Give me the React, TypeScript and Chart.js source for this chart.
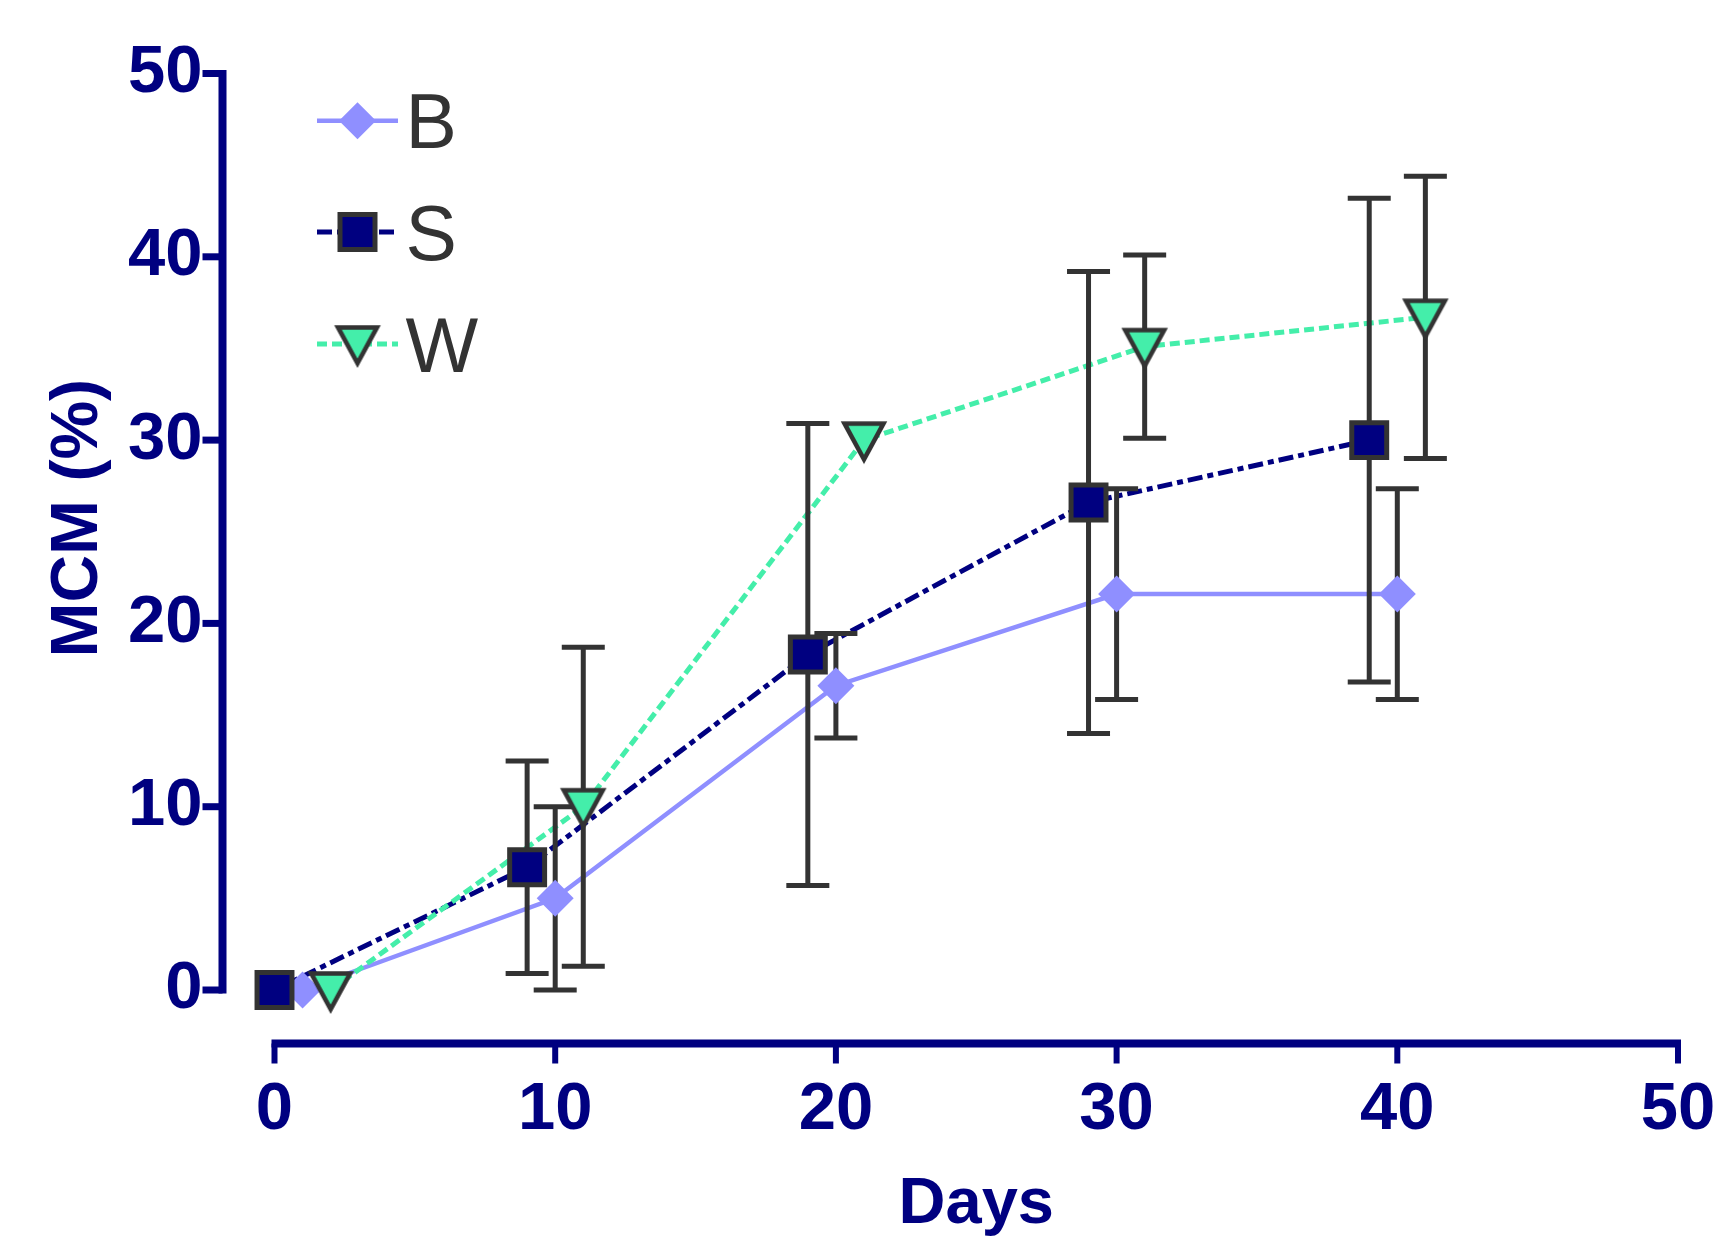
import React, { useEffect, useRef } from 'react';
import { Chart, registerables } from 'chart.js';

Chart.register(...registerables);

// ---------- data ----------
const SERIES_NAMES = ['B', 'S', 'W'];
const B_DAYS = [1, 10, 20, 30, 40];
const B_MEAN = [0, 5, 16.6, 21.6, 21.6];
const B_ERR = [0, 5, 2.85, 5.75, 5.75];
const S_DAYS = [0, 9, 19, 29, 39];
const S_MEAN = [0, 6.7, 18.3, 26.6, 30.0];
const S_ERR = [0, 5.8, 12.6, 12.6, 13.2];
const W_DAYS = [2, 11, 21, 31, 41];
const W_MEAN = [0, 10, 30, 35.1, 36.7];
const W_ERR = [0, 8.7, 0, 5, 7.7];
const X_TICKS = [0, 10, 20, 30, 40, 50];
const Y_TICKS = [0, 10, 20, 30, 40, 50];
const X_TITLE = 'Days';
const Y_TITLE = 'MCM (%)';

// ---------- styles ----------
const NAVY = '#000080';
const B_COLOR = '#8F8FFF';
const S_COLOR = '#000080';
const W_COLOR = '#44EEAA';
const EDGE = '#333333';
const FONT = "'Liberation Sans', Arial, Helvetica, sans-serif";
const S_DASH = [15, 5, 6, 5];
const W_DASH = [10, 5];
const B_WIDTH = 4.5;
const DASH_WIDTH = 5;

function makeTriangle(): HTMLCanvasElement {
  const c = document.createElement('canvas');
  c.width = 60;
  c.height = 60;
  const g = c.getContext('2d') as CanvasRenderingContext2D;
  drawTriangle(g, 30, 30);
  return c;
}

function drawTriangle(g: CanvasRenderingContext2D, cx: number, cy: number) {
  g.save();
  g.beginPath();
  g.moveTo(cx - 19.5, cy - 16.6);
  g.lineTo(cx + 19.5, cy - 16.6);
  g.lineTo(cx, cy + 19.4);
  g.closePath();
  g.fillStyle = W_COLOR;
  g.fill();
  g.lineWidth = 4.5;
  g.strokeStyle = EDGE;
  g.lineJoin = 'miter';
  g.setLineDash([]);
  g.stroke();
  g.restore();
}

const SERIES = [
  { name: SERIES_NAMES[0], days: B_DAYS, mean: B_MEAN, err: B_ERR },
  { name: SERIES_NAMES[1], days: S_DAYS, mean: S_MEAN, err: S_ERR },
  { name: SERIES_NAMES[2], days: W_DAYS, mean: W_MEAN, err: W_ERR },
];

const toPoints = (days: number[], mean: number[]) => days.map((d, i) => ({ x: d, y: mean[i] }));

const errorBarPlugin = {
  id: 'errorBars',
  beforeDatasetDraw(chart: any, args: any) {
    const ds = chart.data.datasets[args.index];
    if (ds.label !== 'B markers') return;
    const ctx = chart.ctx;
    const xs = chart.scales.x;
    const ys = chart.scales.y;
    ctx.save();
    ctx.strokeStyle = EDGE;
    ctx.lineWidth = 5;
    ctx.lineCap = 'butt';
    ctx.setLineDash([]);
    SERIES.forEach((s) => {
      s.days.forEach((d, i) => {
        const e = s.err[i];
        if (!e) return;
        const px = xs.getPixelForValue(d);
        const top = ys.getPixelForValue(s.mean[i] + e);
        const bot = ys.getPixelForValue(s.mean[i] - e);
        ctx.beginPath();
        ctx.moveTo(px, top);
        ctx.lineTo(px, bot);
        ctx.moveTo(px - 21.5, top);
        ctx.lineTo(px + 21.5, top);
        ctx.moveTo(px - 21.5, bot);
        ctx.lineTo(px + 21.5, bot);
        ctx.stroke();
      });
    });
    ctx.restore();
  },
};

const axesPlugin = {
  id: 'offsetAxes',
  beforeDatasetsDraw(chart: any) {
    const ctx = chart.ctx;
    const xs = chart.scales.x;
    const ys = chart.scales.y;
    const area = chart.chartArea;
    const axX = area.left - 52;
    const axY = area.bottom + 53.5;
    ctx.save();
    ctx.strokeStyle = NAVY;
    ctx.setLineDash([]);
    ctx.lineCap = 'butt';
    // y axis
    ctx.lineWidth = 8;
    ctx.beginPath();
    ctx.moveTo(axX, ys.getPixelForValue(Y_TICKS[Y_TICKS.length - 1]) - 3.5);
    ctx.lineTo(axX, ys.getPixelForValue(Y_TICKS[0]) + 3.5);
    ctx.stroke();
    ctx.lineWidth = 7;
    ys.ticks.forEach((t: any) => {
      const py = ys.getPixelForValue(t.value);
      ctx.beginPath();
      ctx.moveTo(axX - 20, py);
      ctx.lineTo(axX, py);
      ctx.stroke();
    });
    // x axis
    ctx.lineWidth = 8;
    ctx.beginPath();
    ctx.moveTo(xs.getPixelForValue(X_TICKS[0]) - 3, axY);
    ctx.lineTo(xs.getPixelForValue(X_TICKS[X_TICKS.length - 1]) + 3, axY);
    ctx.stroke();
    ctx.lineWidth = 6;
    xs.ticks.forEach((t: any) => {
      const px = xs.getPixelForValue(t.value);
      ctx.beginPath();
      ctx.moveTo(px, axY);
      ctx.lineTo(px, axY + 20);
      ctx.stroke();
    });
    ctx.restore();
  },
};

const legendPlugin = {
  id: 'customLegend',
  afterDraw(chart: any) {
    const ctx = chart.ctx;
    const area = chart.chartArea;
    const x1 = area.left + 42.5;
    const x2 = area.left + 123.5;
    const mx = (x1 + x2) / 2;
    const tx = area.left + 131;
    const rows = [area.top + 47.2, area.top + 158.5, area.top + 270.5];
    const tri = chart.$triangle as HTMLCanvasElement;
    ctx.save();
    rows.forEach((ry, k) => {
      ctx.lineCap = 'butt';
      if (k === 0) {
        ctx.strokeStyle = B_COLOR; ctx.lineWidth = B_WIDTH; ctx.setLineDash([]);
      } else if (k === 1) {
        ctx.strokeStyle = S_COLOR; ctx.lineWidth = DASH_WIDTH; ctx.setLineDash(S_DASH);
      } else {
        ctx.strokeStyle = W_COLOR; ctx.lineWidth = DASH_WIDTH; ctx.setLineDash(W_DASH);
      }
      ctx.beginPath();
      ctx.moveTo(x1, ry);
      ctx.lineTo(x2, ry);
      ctx.stroke();
      ctx.setLineDash([]);
      if (k === 0) {
        const r = 18.5;
        ctx.beginPath();
        ctx.moveTo(mx - r, ry);
        ctx.lineTo(mx, ry - r);
        ctx.lineTo(mx + r, ry);
        ctx.lineTo(mx, ry + r);
        ctx.closePath();
        ctx.fillStyle = B_COLOR;
        ctx.fill();
      } else if (k === 1) {
        const h = 17.5;
        ctx.beginPath();
        ctx.rect(mx - h, ry - h, 2 * h, 2 * h);
        ctx.fillStyle = S_COLOR;
        ctx.fill();
        ctx.lineWidth = 5;
        ctx.strokeStyle = EDGE;
        ctx.stroke();
      } else if (tri) {
        ctx.drawImage(tri, mx - tri.width / 2, ry - tri.height / 2);
      }
      ctx.fillStyle = EDGE;
      ctx.font = `normal 77px ${FONT}`;
      ctx.textAlign = 'left';
      ctx.textBaseline = 'alphabetic';
      ctx.fillText(SERIES_NAMES[k], tx, ry + 27.6);
    });
    // y-axis title
    ctx.save();
    ctx.translate(73, (area.top + area.bottom) / 2 - 13.5);
    ctx.rotate(-Math.PI / 2);
    ctx.fillStyle = NAVY;
    ctx.font = `bold 66px ${FONT}`;
    ctx.textAlign = 'center';
    ctx.textBaseline = 'alphabetic';
    ctx.fillText(Y_TITLE, 0, 23.6);
    ctx.restore();
    ctx.restore();
  },
};

const zeroPadding = (s: any) => {
  s.paddingLeft = 0;
  s.paddingRight = 0;
  s.paddingTop = 0;
  s.paddingBottom = 0;
};

export default function App() {
  const canvasRef = useRef<HTMLCanvasElement | null>(null);

  useEffect(() => {
    const canvas = canvasRef.current;
    if (!canvas) return;
    const tri = makeTriangle();

    const lineBase = {
      pointRadius: 0,
      pointHoverRadius: 0,
      fill: false,
      tension: 0,
      clip: false as any,
      borderCapStyle: 'butt',
    };
    const markerBase = {
      showLine: false,
      clip: false as any,
      pointHoverRadius: 0,
    };

    const chart = new Chart(canvas, {
      type: 'line',
      data: {
        datasets: [
          { ...lineBase, label: 'B line', data: toPoints(B_DAYS, B_MEAN), borderColor: B_COLOR, borderWidth: B_WIDTH, order: 12 },
          { ...lineBase, label: 'S line', data: toPoints(S_DAYS, S_MEAN), borderColor: S_COLOR, borderWidth: DASH_WIDTH, borderDash: S_DASH, order: 11 },
          { ...lineBase, label: 'W line', data: toPoints(W_DAYS, W_MEAN), borderColor: W_COLOR, borderWidth: DASH_WIDTH, borderDash: W_DASH, order: 10 },
          {
            ...markerBase, label: 'B markers', data: toPoints(B_DAYS, B_MEAN),
            pointStyle: 'rectRot', pointRadius: 18.5, pointBackgroundColor: B_COLOR, pointBorderWidth: 0,
            borderColor: B_COLOR, order: 3,
          },
          {
            ...markerBase, label: 'S markers', data: toPoints(S_DAYS, S_MEAN),
            pointStyle: 'rect', pointRadius: 24.7, pointBackgroundColor: S_COLOR, pointBorderColor: EDGE, pointBorderWidth: 5,
            borderColor: S_COLOR, order: 2,
          },
          {
            ...markerBase, label: 'W markers', data: toPoints(W_DAYS, W_MEAN),
            pointStyle: tri as any, pointRadius: 20, pointBackgroundColor: W_COLOR,
            borderColor: W_COLOR, order: 1,
          },
        ] as any,
      },
      options: {
        responsive: false,
        maintainAspectRatio: false,
        animation: false,
        devicePixelRatio: 1,
        events: [],
        layout: { padding: { left: 0, top: 73.5, right: 44, bottom: 0 } },
        plugins: {
          legend: { display: false },
          tooltip: { enabled: false },
          title: { display: false },
        },
        scales: {
          x: {
            type: 'linear',
            min: X_TICKS[0],
            max: X_TICKS[X_TICKS.length - 1],
            afterBuildTicks: (s: any) => { s.ticks = X_TICKS.map((v) => ({ value: v })); },
            afterFit: (s: any) => { s.height = 248; zeroPadding(s); },
            grid: { display: false, drawTicks: false },
            border: { display: false },
            ticks: {
              color: NAVY,
              font: { family: FONT, size: 67, weight: 'bold' },
              padding: 80.5,
              maxRotation: 0,
              autoSkip: false,
            },
            title: {
              display: true,
              text: X_TITLE,
              color: NAVY,
              font: { family: FONT, size: 65, weight: 'bold', lineHeight: 1 },
              padding: { top: 0, bottom: 0 },
            },
          },
          y: {
            type: 'linear',
            min: Y_TICKS[0],
            max: Y_TICKS[Y_TICKS.length - 1],
            afterBuildTicks: (s: any) => { s.ticks = Y_TICKS.map((v) => ({ value: v })); },
            afterFit: (s: any) => { s.width = 274.5; zeroPadding(s); },
            grid: { display: false, drawTicks: false },
            border: { display: false },
            ticks: {
              color: NAVY,
              font: { family: FONT, size: 67, weight: 'bold' },
              padding: 72,
              autoSkip: false,
            },
            title: { display: false },
          },
        },
      } as any,
      plugins: [axesPlugin, errorBarPlugin, legendPlugin],
    });
    (chart as any).$triangle = tri;
    chart.draw();

    return () => {
      chart.destroy();
    };
  }, []);

  return (
    <div style={{ position: 'fixed', left: 0, top: 0, width: 1722, height: 1238, background: '#fff' }}>
      <canvas ref={canvasRef} width={1722} height={1238} style={{ display: 'block', width: 1722, height: 1238 }} />
    </div>
  );
}
